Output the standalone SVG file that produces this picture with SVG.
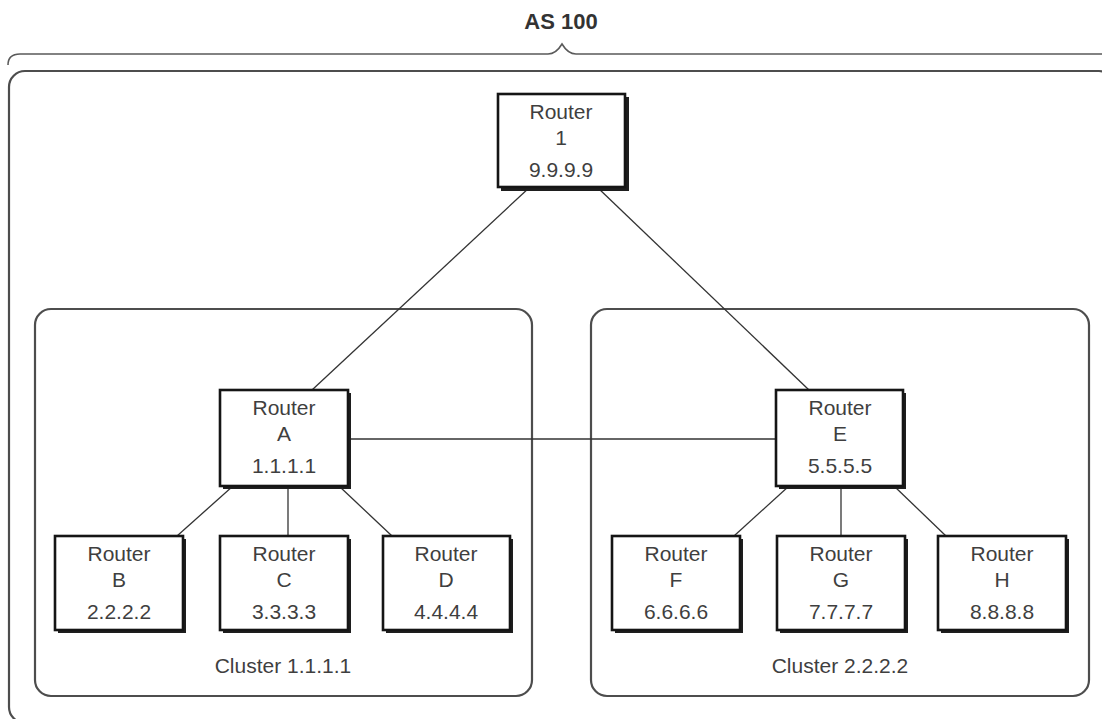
<svg xmlns="http://www.w3.org/2000/svg" width="1102" height="719" viewBox="0 0 1102 719">
<style>
.frame{fill:none;stroke:#4d4d4d;stroke-width:2.2}
.brace{fill:none;stroke:#5a5a5a;stroke-width:1.6}
.shadow{fill:#1e1e1e}
.box{fill:#fff;stroke:#151515;stroke-width:2.6}
.lbl{font-family:"Liberation Sans",Arial,sans-serif;font-size:21px;fill:#3f3f3f;text-anchor:middle}
.title{font-family:"Liberation Sans",Arial,sans-serif;font-size:22px;font-weight:bold;fill:#333;text-anchor:middle}
.conn{stroke:#333;stroke-width:1.3;fill:none}
</style>
<rect width="1102" height="719" fill="#fff"/>
<g id="as100">
<text class="title" x="561" y="29">AS 100</text>
<path class="brace" d="M8,65 Q8,54 20,54 L548,54 Q556,54 562,44 Q568,54 576,54 L1104,54"/>
<rect class="frame" x="9" y="71" width="1106" height="652" rx="16"/>
</g>
<g id="cluster1">
<rect class="frame" x="35" y="309" width="497" height="387" rx="16"/>
<text class="lbl" x="283" y="673">Cluster 1.1.1.1</text>
</g>
<g id="cluster2">
<rect class="frame" x="591" y="309" width="498" height="387" rx="16"/>
<text class="lbl" x="840" y="673">Cluster 2.2.2.2</text>
</g>
<g id="connectors">
<line class="conn" x1="530" y1="187" x2="312" y2="390"/>
<line class="conn" x1="597" y1="187" x2="809" y2="390"/>
<line class="conn" x1="348" y1="439" x2="776" y2="439"/>
<line class="conn" x1="233" y1="486" x2="177" y2="536"/>
<line class="conn" x1="288" y1="486" x2="288" y2="536"/>
<line class="conn" x1="339" y1="486" x2="392" y2="536"/>
<line class="conn" x1="789" y1="486" x2="734" y2="536"/>
<line class="conn" x1="841" y1="486" x2="841" y2="536"/>
<line class="conn" x1="894" y1="486" x2="946" y2="536"/>
</g>
<g id="router1">
<rect class="shadow" x="501" y="97" width="128" height="94"/>
<rect class="box" x="498" y="94" width="127" height="93"/>
<text class="lbl" x="561" y="119">Router</text>
<text class="lbl" x="561" y="145">1</text>
<text class="lbl" x="561" y="177">9.9.9.9</text>
</g>
<g id="routerA">
<rect class="shadow" x="223" y="393" width="128" height="96"/>
<rect class="box" x="220" y="390" width="128" height="96"/>
<text class="lbl" x="284" y="415">Router</text>
<text class="lbl" x="284" y="441">A</text>
<text class="lbl" x="284" y="473">1.1.1.1</text>
</g>
<g id="routerE">
<rect class="shadow" x="779" y="393" width="127" height="96"/>
<rect class="box" x="776" y="390" width="127" height="96"/>
<text class="lbl" x="840" y="415">Router</text>
<text class="lbl" x="840" y="441">E</text>
<text class="lbl" x="840" y="473">5.5.5.5</text>
</g>
<g id="routerB">
<rect class="shadow" x="58" y="539" width="128" height="94"/>
<rect class="box" x="55" y="536" width="128" height="94"/>
<text class="lbl" x="119" y="561">Router</text>
<text class="lbl" x="119" y="587">B</text>
<text class="lbl" x="119" y="619">2.2.2.2</text>
</g>
<g id="routerC">
<rect class="shadow" x="223" y="539" width="128" height="94"/>
<rect class="box" x="220" y="536" width="128" height="94"/>
<text class="lbl" x="284" y="561">Router</text>
<text class="lbl" x="284" y="587">C</text>
<text class="lbl" x="284" y="619">3.3.3.3</text>
</g>
<g id="routerD">
<rect class="shadow" x="386" y="539" width="127" height="94"/>
<rect class="box" x="383" y="536" width="127" height="94"/>
<text class="lbl" x="446" y="561">Router</text>
<text class="lbl" x="446" y="587">D</text>
<text class="lbl" x="446" y="619">4.4.4.4</text>
</g>
<g id="routerF">
<rect class="shadow" x="615" y="539" width="128" height="94"/>
<rect class="box" x="612" y="536" width="128" height="94"/>
<text class="lbl" x="676" y="561">Router</text>
<text class="lbl" x="676" y="587">F</text>
<text class="lbl" x="676" y="619">6.6.6.6</text>
</g>
<g id="routerG">
<rect class="shadow" x="780" y="539" width="128" height="94"/>
<rect class="box" x="777" y="536" width="128" height="94"/>
<text class="lbl" x="841" y="561">Router</text>
<text class="lbl" x="841" y="587">G</text>
<text class="lbl" x="841" y="619">7.7.7.7</text>
</g>
<g id="routerH">
<rect class="shadow" x="941" y="539" width="128" height="94"/>
<rect class="box" x="938" y="536" width="128" height="94"/>
<text class="lbl" x="1002" y="561">Router</text>
<text class="lbl" x="1002" y="587">H</text>
<text class="lbl" x="1002" y="619">8.8.8.8</text>
</g>
</svg>
